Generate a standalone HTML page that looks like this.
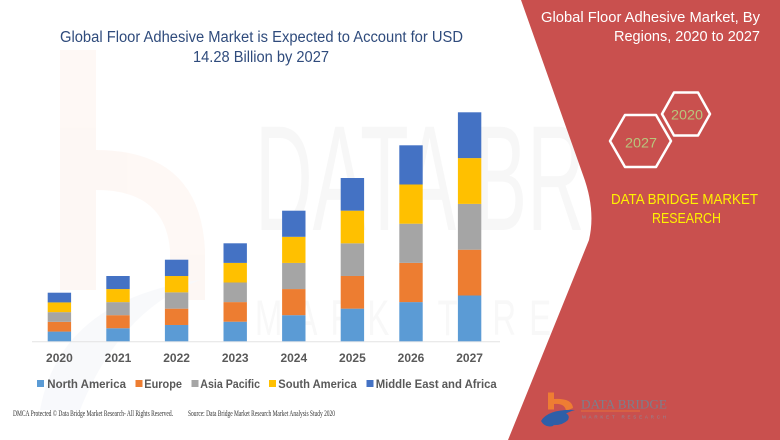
<!DOCTYPE html>
<html><head><meta charset="utf-8"><style>
html,body{margin:0;padding:0;background:#fff;}
svg{display:block;}
text{font-family:"Liberation Sans",sans-serif;}
</style></head><body>
<svg width="780" height="440" viewBox="0 0 780 440" xmlns="http://www.w3.org/2000/svg">
<rect width="780" height="440" fill="#ffffff"/>
<!-- faint watermark b -->
<g opacity="0.4">
<rect x="60" y="50" width="36" height="240" fill="#FCEDE6"/>
<path d="M96 150 Q200 150 205 250 L205 300 L170 300 L170 250 Q165 190 96 190 Z" fill="#FCEDE6"/>
<path d="M40 410 Q60 300 200 280 Q120 310 80 410 Z" fill="#EEF1F7"/>
</g>
<text x="255" y="230" font-size="150" fill="#F7F7F7" textLength="525" lengthAdjust="spacingAndGlyphs">DATA BRIDGE</text>
<text x="255" y="335" font-size="50" fill="#F8F8F8" textLength="525" lengthAdjust="spacingAndGlyphs" letter-spacing="20">MARKET RESEARCH</text>
<!-- red panel -->
<path d="M521 0 L583 175 Q596 210 589 240 L508 440 L780 440 L780 0 Z" fill="#C9504E"/>
<!-- title -->
<text x="60" y="42" font-size="15.5" fill="#2F4B7C" textLength="403" lengthAdjust="spacingAndGlyphs">Global Floor Adhesive Market is Expected to Account for USD</text>
<text x="193" y="62" font-size="15.5" fill="#2F4B7C" textLength="136" lengthAdjust="spacingAndGlyphs">14.28 Billion by 2027</text>
<!-- right title -->
<text x="541" y="22" font-size="15" fill="#ffffff" textLength="219" lengthAdjust="spacingAndGlyphs">Global Floor Adhesive Market, By</text>
<text x="614" y="41" font-size="15" fill="#ffffff" textLength="146" lengthAdjust="spacingAndGlyphs">Regions, 2020 to 2027</text>
<!-- hexagons -->
<polygon points="662,114 674,92.5 698,92.5 710,114 698,135.5 674,135.5" fill="none" stroke="#ffffff" stroke-width="2.5" stroke-linejoin="round"/>
<polygon points="610,141 625,115 656,115 671,141 656,167 625,167" fill="none" stroke="#ffffff" stroke-width="2.5" stroke-linejoin="round"/>
<text x="671" y="119.5" font-size="14" fill="#B8C57C" textLength="32" lengthAdjust="spacingAndGlyphs">2020</text>
<text x="625" y="147.5" font-size="14" fill="#B8C57C" textLength="32" lengthAdjust="spacingAndGlyphs">2027</text>
<text x="611" y="204" font-size="15" fill="#FFF200" textLength="147" lengthAdjust="spacingAndGlyphs">DATA BRIDGE MARKET</text>
<text x="652" y="223" font-size="15" fill="#FFF200" textLength="69" lengthAdjust="spacingAndGlyphs">RESEARCH</text>
<!-- axis -->
<line x1="32" y1="341.8" x2="500" y2="341.8" stroke="#E3E3E3" stroke-width="1"/>
<!-- bars -->
<g>
<rect x="47.7" y="331.58" width="23.4" height="9.72" fill="#5B9BD5"/>
<rect x="47.7" y="321.86" width="23.4" height="9.72" fill="#ED7D31"/>
<rect x="47.7" y="312.14" width="23.4" height="9.72" fill="#A5A5A5"/>
<rect x="47.7" y="302.42" width="23.4" height="9.72" fill="#FFC000"/>
<rect x="47.7" y="292.7" width="23.4" height="9.72" fill="#4472C4"/>

<rect x="106.3" y="328.24" width="23.4" height="13.06" fill="#5B9BD5"/>
<rect x="106.3" y="315.18" width="23.4" height="13.06" fill="#ED7D31"/>
<rect x="106.3" y="302.12" width="23.4" height="13.06" fill="#A5A5A5"/>
<rect x="106.3" y="289.06" width="23.4" height="13.06" fill="#FFC000"/>
<rect x="106.3" y="276.0" width="23.4" height="13.06" fill="#4472C4"/>

<rect x="164.9" y="324.98" width="23.4" height="16.32" fill="#5B9BD5"/>
<rect x="164.9" y="308.66" width="23.4" height="16.32" fill="#ED7D31"/>
<rect x="164.9" y="292.34" width="23.4" height="16.32" fill="#A5A5A5"/>
<rect x="164.9" y="276.02" width="23.4" height="16.32" fill="#FFC000"/>
<rect x="164.9" y="259.7" width="23.4" height="16.32" fill="#4472C4"/>

<rect x="223.5" y="321.7" width="23.4" height="19.6" fill="#5B9BD5"/>
<rect x="223.5" y="302.1" width="23.4" height="19.6" fill="#ED7D31"/>
<rect x="223.5" y="282.5" width="23.4" height="19.6" fill="#A5A5A5"/>
<rect x="223.5" y="262.9" width="23.4" height="19.6" fill="#FFC000"/>
<rect x="223.5" y="243.3" width="23.4" height="19.6" fill="#4472C4"/>

<rect x="282.1" y="315.18" width="23.4" height="26.12" fill="#5B9BD5"/>
<rect x="282.1" y="289.06" width="23.4" height="26.12" fill="#ED7D31"/>
<rect x="282.1" y="262.94" width="23.4" height="26.12" fill="#A5A5A5"/>
<rect x="282.1" y="236.82" width="23.4" height="26.12" fill="#FFC000"/>
<rect x="282.1" y="210.7" width="23.4" height="26.12" fill="#4472C4"/>

<rect x="340.7" y="308.64" width="23.4" height="32.66" fill="#5B9BD5"/>
<rect x="340.7" y="275.98" width="23.4" height="32.66" fill="#ED7D31"/>
<rect x="340.7" y="243.32" width="23.4" height="32.66" fill="#A5A5A5"/>
<rect x="340.7" y="210.66" width="23.4" height="32.66" fill="#FFC000"/>
<rect x="340.7" y="178.0" width="23.4" height="32.66" fill="#4472C4"/>

<rect x="399.3" y="302.1" width="23.4" height="39.2" fill="#5B9BD5"/>
<rect x="399.3" y="262.9" width="23.4" height="39.2" fill="#ED7D31"/>
<rect x="399.3" y="223.7" width="23.4" height="39.2" fill="#A5A5A5"/>
<rect x="399.3" y="184.5" width="23.4" height="39.2" fill="#FFC000"/>
<rect x="399.3" y="145.3" width="23.4" height="39.2" fill="#4472C4"/>

<rect x="457.9" y="295.5" width="23.4" height="45.8" fill="#5B9BD5"/>
<rect x="457.9" y="249.7" width="23.4" height="45.8" fill="#ED7D31"/>
<rect x="457.9" y="203.9" width="23.4" height="45.8" fill="#A5A5A5"/>
<rect x="457.9" y="158.1" width="23.4" height="45.8" fill="#FFC000"/>
<rect x="457.9" y="112.3" width="23.4" height="45.8" fill="#4472C4"/>
</g>
<!-- year labels -->
<g font-size="12" font-weight="bold" fill="#595959" text-anchor="middle">
<text x="59.4" y="362">2020</text>
<text x="118" y="362">2021</text>
<text x="176.6" y="362">2022</text>
<text x="235.2" y="362">2023</text>
<text x="293.8" y="362">2024</text>
<text x="352.4" y="362">2025</text>
<text x="411" y="362">2026</text>
<text x="469.6" y="362">2027</text>
</g>
<!-- legend -->
<g font-size="12" font-weight="bold" fill="#595959">
<rect x="37" y="380" width="7" height="7" fill="#5B9BD5"/>
<text x="47.3" y="388" textLength="78.7" lengthAdjust="spacingAndGlyphs">North America</text>
<rect x="135.5" y="380" width="7" height="7" fill="#ED7D31"/>
<text x="144.3" y="388" textLength="37.7" lengthAdjust="spacingAndGlyphs">Europe</text>
<rect x="191.5" y="380" width="7" height="7" fill="#A5A5A5"/>
<text x="200.3" y="388" textLength="59.7" lengthAdjust="spacingAndGlyphs">Asia Pacific</text>
<rect x="269" y="380" width="7" height="7" fill="#FFC000"/>
<text x="278.3" y="388" textLength="78.4" lengthAdjust="spacingAndGlyphs">South America</text>
<rect x="366.5" y="380" width="7" height="7" fill="#4472C4"/>
<text x="375.7" y="388" textLength="121" lengthAdjust="spacingAndGlyphs">Middle East and Africa</text>
</g>
<!-- footer -->
<g font-size="8" fill="#333333">
<text x="13" y="416" style="font-family:'Liberation Serif',serif" textLength="160" lengthAdjust="spacingAndGlyphs">DMCA Protected © Data Bridge Market Research- All Rights Reserved.</text>
<text x="188" y="416" style="font-family:'Liberation Serif',serif" textLength="147" lengthAdjust="spacingAndGlyphs">Source: Data Bridge Market Research Market Analysis Study 2020</text>
</g>
<!-- logo -->
<g>
<rect x="548" y="392.5" width="6" height="17" fill="#EE7D33"/>
<path d="M554 399 Q572 398 573 408 L566 411 Q565 403 554 404 Z" fill="#EE7D33"/>
<path d="M541 421 Q548 409 575 410 Q560 414 553 426 Q545 428 541 421 Z" fill="#2E5FA8"/>
<path d="M556 412 Q572 412 568 420 Q562 426 551 425 Z" fill="#2E5FA8"/>
<text x="581" y="408.5" font-size="13" fill="#7C7F8C" style="font-family:'Liberation Serif',serif" textLength="86" lengthAdjust="spacingAndGlyphs">DATA BRIDGE</text>
<line x1="581" y1="411" x2="640" y2="411" stroke="#EE7D33" stroke-width="0.8"/>
<text x="582" y="418.5" font-size="4.5" fill="#8A8A98" textLength="84" lengthAdjust="spacing">MARKET RESEARCH</text>
</g>
</svg>
</body></html>
